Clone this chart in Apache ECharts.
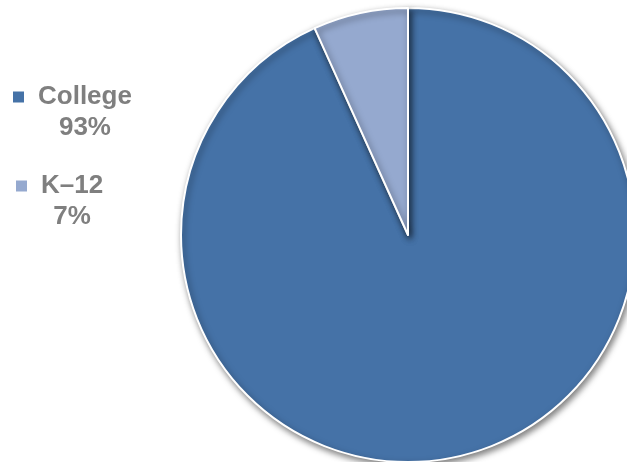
<!DOCTYPE html>
<html lang="en" style="height: 100%">
<head>
    <meta charset="utf-8">
    <title>College vs K-12</title>
</head>
<body style="height: 100%; margin: 0">
    <div id="container" style="width:627px;height:462px"></div>
    <script src="https://cdn.jsdelivr.net/npm/echarts@6/dist/echarts.min.js"></script>
    <script>
        // data
        var categories = ['College', 'K\u201312'];
        var shares = [93.25, 6.75];
        var colors = ['#4572a7', '#95a9cf'];

        var dom = document.getElementById('container');
        var myChart = echarts.init(dom, null, { renderer: 'canvas' });

        var pieData = categories.map(function (name, i) {
            return { name: name, value: shares[i], itemStyle: { color: colors[i] } };
        });

        // legend text: name on line 1, rounded percent centred below
        function legendText(name) {
            var i = categories.indexOf(name);
            return '{n|' + name + '}\n{n|' + Math.round(shares[i]) + '%}';
        }

        var legendStyle = {
            fontFamily: '"Liberation Sans", Arial, sans-serif',
            fontWeight: 'bold',
            fontSize: 26,
            color: '#7f7f7f',
            padding: [31, 0, 0, 9],   // keeps the marker level with the first line
            rich: {
                n: {
                    fontFamily: '"Liberation Sans", Arial, sans-serif',
                    fontWeight: 'bold',
                    fontSize: 26,
                    lineHeight: 31,
                    color: '#7f7f7f',
                    align: 'center'
                }
            }
        };

        function makeLegend(i, left, top) {
            return {
                data: [categories[i]],
                orient: 'vertical',
                left: left,
                top: top,
                padding: 0,
                icon: 'rect',
                itemWidth: 11,
                itemHeight: 11,
                itemStyle: { borderWidth: 0, shadowBlur: 0, shadowOffsetX: 0, shadowOffsetY: 0 },
                selectedMode: false,
                formatter: legendText,
                textStyle: legendStyle
            };
        }

        var option = {
            animation: false,
            backgroundColor: '#ffffff',
            legend: [
                makeLegend(0, 13, 84),
                makeLegend(1, 16, 173)
            ],
            series: [{
                type: 'pie',
                center: [408, 235],
                radius: 227,
                startAngle: 90,
                clockwise: true,
                label: { show: false },
                labelLine: { show: false },
                emphasis: { disabled: true },
                itemStyle: {
                    borderColor: '#ffffff',
                    borderWidth: 2,
                    shadowColor: 'rgba(0,0,0,0.5)',
                    shadowBlur: 6,
                    shadowOffsetX: 2,
                    shadowOffsetY: 3
                },
                data: pieData
            }]
        };

        myChart.setOption(option);
        window.addEventListener('resize', myChart.resize);
    </script>
</body>
</html>
